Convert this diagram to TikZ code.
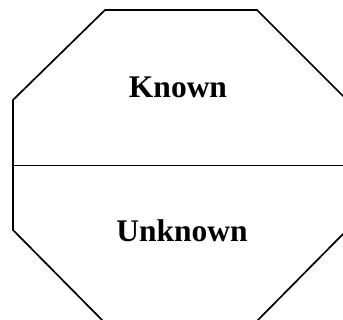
\documentclass[tikz,border=0pt]{standalone}
\usepackage{fontspec}
\setmainfont{Liberation Serif}
\begin{document}
\begin{tikzpicture}[x=1pt,y=-1pt,
  edge/.style={draw=black,line width=1.7pt,line join=miter},
  label/.style={font=\fontsize{31.5}{36}\selectfont\bfseries,inner sep=0pt}]
\clip (0,0) rectangle (343,320);
\fill[white] (0,0) rectangle (343,320);
\draw[edge] (105,10) -- (257,10) -- (347,100) -- (347,230) -- (257,321) -- (103,321) -- (13,230) -- (13,100) -- cycle;
\draw[edge] (13,165.5) -- (347,165.5);
\node[label] (known) at (178,87) {Known};
\node[label] (unknown) at (182,231) {Unknown};
\end{tikzpicture}
\end{document}
